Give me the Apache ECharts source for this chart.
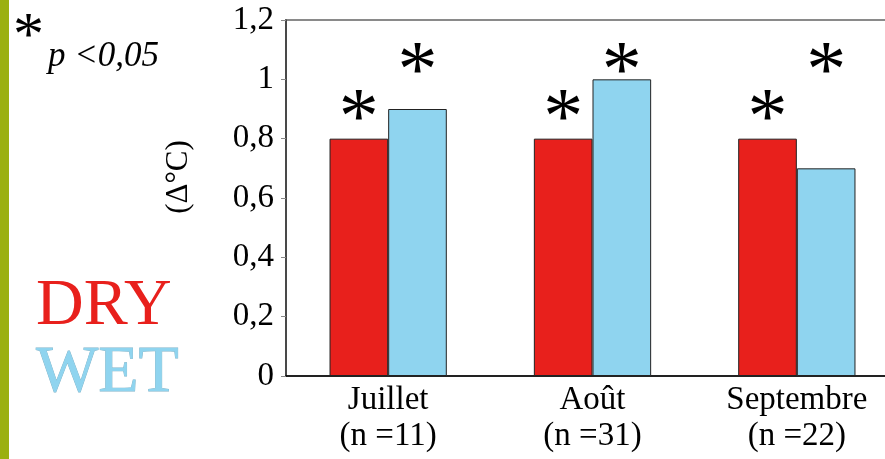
<!DOCTYPE html>
<html>
<head>
<meta charset="utf-8">
<script src="https://cdn.jsdelivr.net/npm/echarts@6/dist/echarts.min.js"></script>
<style>
  html, body { margin: 0; padding: 0; background: #fff; }
  #chart { width: 885px; height: 459px; }
</style>
</head>
<body>
<div id="chart"></div>
<script>
// months with sample sizes
const months = ["Juillet\n(n =11)", "Août\n(n =31)", "Septembre\n(n =22)"];
const dryValues = [0.8, 0.8, 0.8];
const wetValues = [0.9, 1.0, 0.7];
// where the significance stars sit (in axis units)
const dryStarY = [0.91, 0.91, 0.91];
const wetStarY = [1.07, 1.07, 1.07];
const yTicks = [0, 0.2, 0.4, 0.6, 0.8, 1, 1.2];

const serif = "'Liberation Serif', 'DejaVu Serif', serif";
const RED = "#e8201c";
const BLUE = "#8fd4ef";

function starPoints(ys) {
    return ys.map((y, i) => ({ coord: [i, y], value: "*" }));
}

const starStyle = {
    symbol: "circle",
    symbolSize: 1,
    itemStyle: { color: "rgba(0,0,0,0)" },
    label: {
        show: true,
        position: "inside",
        formatter: "*",
        color: "#000",
        fontFamily: serif,
        fontSize: 80,
        offset: [0, 16]
    }
};

const chart = echarts.init(document.getElementById("chart"));

chart.setOption({
    backgroundColor: "#fff",
    animation: false,
    graphic: [
        {
            type: "rect",
            left: 0, top: 0,
            shape: { width: 9, height: 459 },
            style: { fill: "#9bb010" }
        }
    ],
    title: {
        left: 8,
        top: 8,
        text: "{s|*}{p|p <0,05}",
        textStyle: {
            fontWeight: "normal",
            rich: {
                s: { fontFamily: serif, fontSize: 62, color: "#000", verticalAlign: "top", height: 50 },
                p: { fontFamily: serif, fontSize: 35, fontStyle: "italic", fontWeight: "normal", color: "#000", padding: [26, 0, 0, 4] }
            }
        }
    },
    legend: {
        orient: "vertical",
        left: 26,
        top: 269,
        icon: "none",
        itemWidth: 0,
        itemGap: 0,
        selectedMode: false,
        textStyle: { fontFamily: serif, fontSize: 66 },
        data: [
            { name: "DRY", textStyle: { color: RED } },
            { name: "WET", textStyle: { color: BLUE, textBorderColor: "#7fb3c8", textBorderWidth: 0.8 } }
        ]
    },
    grid: {
        left: 286,
        top: 20,
        width: 613,
        height: 356,
        show: true,
        borderColor: "#8a8a8a",
        borderWidth: 2,
        containLabel: false,
        outerBoundsMode: "none"
    },
    xAxis: {
        type: "category",
        data: months,
        axisLine: { lineStyle: { color: "#000", width: 1.5 } },
        axisTick: { length: 5, lineStyle: { color: "#888" } },
        axisLabel: {
            color: "#000",
            fontFamily: serif,
            fontSize: 33,
            lineHeight: 36,
            margin: 6
        }
    },
    yAxis: {
        type: "value",
        min: 0,
        max: 1.2,
        interval: 0.2,
        name: "(Δ°C)",
        nameLocation: "middle",
        nameGap: 92,
        nameTextStyle: { color: "#000", fontFamily: serif, fontSize: 31, padding: [0, 0, 0, 42] },
        axisLine: { show: true, lineStyle: { color: "#333", width: 1.5 } },
        axisTick: { show: true, length: 5, lineStyle: { color: "#888" } },
        splitLine: { show: false },
        axisLabel: {
            color: "#000",
            fontFamily: serif,
            fontSize: 33,
            margin: 12,
            formatter: v => {
                const t = yTicks.find(k => Math.abs(k - v) < 1e-9);
                return String(t !== undefined ? t : v).replace(".", ",");
            }
        }
    },
    series: [
        {
            name: "DRY",
            type: "bar",
            data: dryValues,
            barGap: "0%",
            barCategoryGap: "42.6%",
            itemStyle: { color: RED, borderColor: "#222", borderWidth: 1 },
            markPoint: Object.assign({ data: starPoints(dryStarY) }, starStyle)
        },
        {
            name: "WET",
            type: "bar",
            data: wetValues,
            itemStyle: { color: BLUE, borderColor: "#222", borderWidth: 1 },
            markPoint: Object.assign({ data: starPoints(wetStarY) }, starStyle)
        }
    ]
});
</script>
</body>
</html>
